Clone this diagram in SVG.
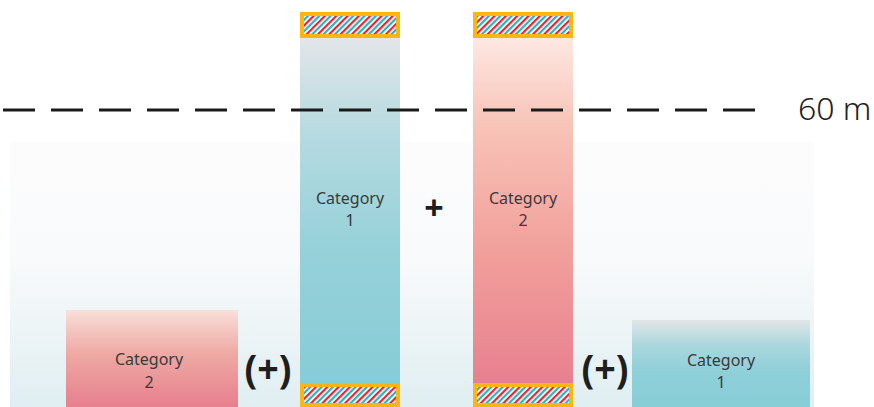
<svg xmlns="http://www.w3.org/2000/svg" width="874" height="407" viewBox="0 0 874 407">
  <defs>
    <linearGradient id="bg" x1="0" y1="0" x2="0" y2="1">
      <stop offset="0" stop-color="#fcfcfc"/>
      <stop offset="0.45" stop-color="#f8fafb"/>
      <stop offset="1" stop-color="#e0eef1"/>
    </linearGradient>
    <linearGradient id="blueTall" x1="0" y1="0" x2="0" y2="1">
      <stop offset="0" stop-color="#e3e6e9"/>
      <stop offset="0.25" stop-color="#b9dbe1"/>
      <stop offset="0.6" stop-color="#97d1d9"/>
      <stop offset="1" stop-color="#86ccd6"/>
    </linearGradient>
    <linearGradient id="pinkTall" x1="0" y1="0" x2="0" y2="1">
      <stop offset="0" stop-color="#fde8e2"/>
      <stop offset="0.25" stop-color="#f8c4b8"/>
      <stop offset="0.6" stop-color="#f2a19c"/>
      <stop offset="1" stop-color="#e8808f"/>
    </linearGradient>
    <linearGradient id="pinkShort" x1="0" y1="0" x2="0" y2="1">
      <stop offset="0" stop-color="#f8e0d9"/>
      <stop offset="0.45" stop-color="#eea9a3"/>
      <stop offset="1" stop-color="#e7808e"/>
    </linearGradient>
    <linearGradient id="blueShort" x1="0" y1="0" x2="0" y2="1">
      <stop offset="0" stop-color="#e2e5e7"/>
      <stop offset="0.3" stop-color="#a9d7de"/>
      <stop offset="0.6" stop-color="#8ecfd8"/>
      <stop offset="1" stop-color="#88ced7"/>
    </linearGradient>
    <pattern id="stripes" width="8" height="8" patternUnits="userSpaceOnUse" patternTransform="rotate(45)">
      <rect width="8" height="8" fill="#ffffff"/>
      <rect x="0" width="2.2" height="8" fill="#e8232f"/>
      <rect x="4" width="2.2" height="8" fill="#2cb1bf"/>
    </pattern>
    <style>
      .cap { fill: #fbb614; }
      .capin { fill: url(#stripes); }
      .lbl { font-family: "Noto Sans", "Open Sans", "Liberation Sans", sans-serif; font-size: 16px; fill: #3a3a3a; text-anchor: middle; }
      .op { font-family: "Noto Sans", "Open Sans", "Liberation Sans", sans-serif; font-weight: 700; fill: #1e1e1e; text-anchor: middle; }
    </style>
  </defs>

  <rect id="background" x="10" y="142" width="804" height="265" fill="url(#bg)"/>

  <g id="bar-category-1-tall">
    <rect x="300" y="38" width="100" height="345" fill="url(#blueTall)"/>
    <rect class="cap" x="300" y="12" width="100" height="26"/>
    <rect class="capin" x="304" y="16" width="92" height="18"/>
    <rect class="cap" x="300" y="383" width="100" height="24"/>
    <rect class="capin" x="304" y="387" width="92" height="16"/>
    <text class="lbl" x="350" y="204">Category</text>
    <text class="lbl" x="350" y="226">1</text>
  </g>

  <g id="bar-category-2-tall">
    <rect x="473" y="38" width="100" height="345" fill="url(#pinkTall)"/>
    <rect class="cap" x="473" y="12" width="100" height="26"/>
    <rect class="capin" x="477" y="16" width="92" height="18"/>
    <rect class="cap" x="473" y="383" width="100" height="24"/>
    <rect class="capin" x="477" y="387" width="92" height="16"/>
    <text class="lbl" x="523" y="204">Category</text>
    <text class="lbl" x="523" y="226">2</text>
  </g>

  <g id="box-category-2-short">
    <rect x="66" y="310" width="172" height="97" fill="url(#pinkShort)"/>
    <text class="lbl" x="149" y="365">Category</text>
    <text class="lbl" x="149" y="388">2</text>
  </g>

  <g id="box-category-1-short">
    <rect x="632" y="320" width="178" height="87" fill="url(#blueShort)"/>
    <text class="lbl" x="721" y="366">Category</text>
    <text class="lbl" x="721" y="388">1</text>
  </g>

  <g id="operators">
    <text class="op" x="434" y="220" font-size="34">+</text>
    <text class="op" x="268" y="383" font-size="40" textLength="47" lengthAdjust="spacingAndGlyphs">(+)</text>
    <text class="op" x="605" y="383" font-size="40" textLength="47" lengthAdjust="spacingAndGlyphs">(+)</text>
  </g>

  <g id="connectors">
    <line x1="3" y1="110" x2="755" y2="110" stroke="#1a1a1a" stroke-width="3" stroke-dasharray="32 16"/>
  </g>

  <g id="label-60m">
    <text x="798" y="120" font-family="Noto Sans, Open Sans, Liberation Sans, sans-serif" font-weight="300" font-size="32" fill="#222">60 m</text>
  </g>
</svg>
